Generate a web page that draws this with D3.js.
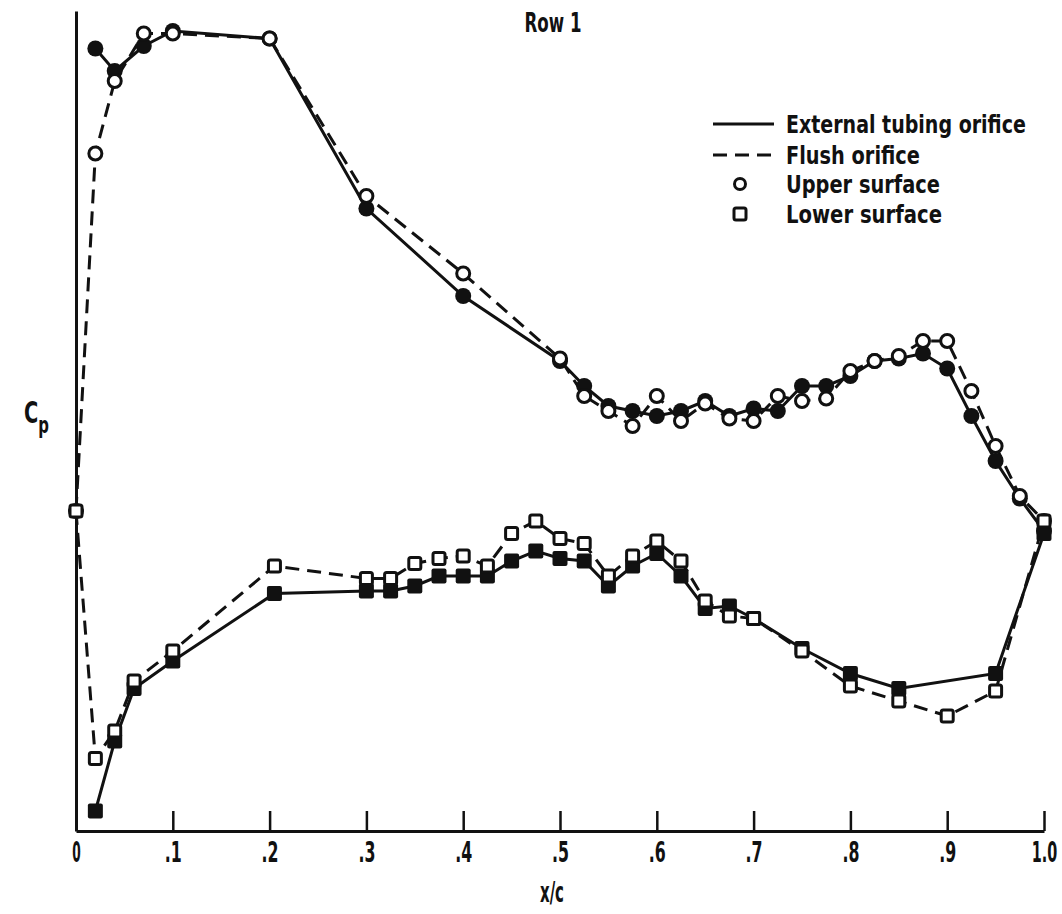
<!DOCTYPE html>
<html>
<head>
<meta charset="utf-8">
<script src="https://cdn.jsdelivr.net/npm/d3@7"></script>
<style>
  body { margin: 0; background: #fff; }
  svg text { font-family: "Liberation Sans Narrow", "DejaVu Sans Condensed", sans-serif; font-weight: bold; fill: #111; }
</style>
</head>
<body>
<script>
"use strict";

/* chordwise stations, upper and lower surface */
var upperX = [0, 0.02, 0.04, 0.07, 0.1, 0.2, 0.3, 0.4, 0.5, 0.525, 0.55, 0.575, 0.6, 0.625,
              0.65, 0.675, 0.7, 0.725, 0.75, 0.775, 0.8, 0.825, 0.85, 0.875, 0.9, 0.925, 0.95, 0.975, 1.0];
var lowerX = [0, 0.02, 0.04, 0.06, 0.1, 0.205, 0.3, 0.325, 0.35, 0.375, 0.4, 0.425, 0.45, 0.475,
              0.5, 0.525, 0.55, 0.575, 0.6, 0.625, 0.65, 0.675, 0.7, 0.75, 0.8, 0.85, 0.9, 0.95, 1.0];

/* Cp, external tubing orifice (null = no reading) */
var upperTubing = [null, -1.85, -1.76, -1.86, -1.92, -1.89, -1.21, -0.86, -0.60, -0.50, -0.42, -0.40, -0.38, -0.40,
                   -0.44, -0.38, -0.41, -0.40, -0.50, -0.50, -0.54, -0.60, -0.61, -0.63, -0.57, -0.38, -0.20, -0.05, 0.08];
var lowerTubing = [null, 1.20, 0.92, 0.71, 0.60, 0.33, 0.32, 0.32, 0.30, 0.26, 0.26, 0.26, 0.20, 0.16,
                   0.19, 0.20, 0.30, 0.22, 0.17, 0.26, 0.39, 0.38, 0.43, 0.55, 0.65, 0.71, null, 0.65, 0.09];

/* Cp, flush orifice */
var upperFlush = [0.0, -1.43, -1.72, -1.91, -1.91, -1.89, -1.26, -0.95, -0.61, -0.46, -0.40, -0.34, -0.46, -0.36,
                  -0.43, -0.37, -0.36, -0.46, -0.44, -0.45, -0.56, -0.60, -0.62, -0.68, -0.68, -0.48, -0.26, -0.06, 0.04];
var lowerFlush = [0.0, 0.99, 0.88, 0.68, 0.56, 0.22, 0.27, 0.27, 0.21, 0.19, 0.18, 0.22, 0.09, 0.04,
                  0.11, 0.13, 0.26, 0.18, 0.12, 0.20, 0.36, 0.42, 0.43, 0.56, 0.70, 0.76, 0.82, 0.72, 0.04];

var xTicks = [0, 0.1, 0.2, 0.3, 0.4, 0.5, 0.6, 0.7, 0.8, 0.9, 1.0];
var xTickLabels = ["0", ".1", ".2", ".3", ".4", ".5", ".6", ".7", ".8", ".9", "1.0"];

var legendItems = ["External tubing orifice", "Flush orifice", "Upper surface", "Lower surface"];
var legendWidths = [240, 134, 154, 156];

var width = 1062, height = 914;

var svg = d3.select("body").append("svg")
    .attr("width", width)
    .attr("height", height);

var x = d3.scaleLinear().domain([0, 1]).range([76, 1044]);
/* Cp axis runs negative upward */
var y = d3.scaleLinear().domain([1.28, -2.0]).range([831, 11]);

/* squeeze a text horizontally to a given width, keeping its anchor point */
function squeeze(node, w) {
  var natural = node.getComputedTextLength();
  if (!natural) return;
  var s = w / natural;
  var ax = +node.getAttribute("x") || 0;
  node.setAttribute("transform",
    "translate(" + ax + ",0) scale(" + s + ",1) translate(" + (-ax) + ",0)");
}

function pairs(xs, vs) {
  return xs.map(function (d, i) { return { x: d, v: vs[i] }; })
           .filter(function (d) { return d.v !== null; });
}

var series = [
  { pts: pairs(upperX, upperTubing), dash: null, shape: "circle", open: false },
  { pts: pairs(lowerX, lowerTubing), dash: null, shape: "square", open: false },
  { pts: pairs(upperX, upperFlush), dash: "14,8", shape: "circle", open: true },
  { pts: pairs(lowerX, lowerFlush), dash: "14,8", shape: "square", open: true }
];

/* axes */
var xAxis = d3.axisBottom(x)
    .tickValues(xTicks)
    .tickFormat(function (d, i) { return xTickLabels[i]; })
    .tickSizeInner(-20)
    .tickSizeOuter(0)
    .tickPadding(10);

var gx = svg.append("g")
    .attr("transform", "translate(0,831)")
    .call(xAxis);
gx.select(".domain").attr("stroke", "#111").attr("stroke-width", 3);
gx.selectAll(".tick line").attr("stroke", "#111").attr("stroke-width", 2.5);
gx.selectAll(".tick").filter(function (d) { return d === 0; }).select("line").remove();
gx.selectAll(".tick text")
    .style("font-size", "29px")
    .attr("fill", "#111")
    .each(function (d, i) { squeeze(this, xTickLabels[i].length * 8.5); });

var gy = svg.append("g")
    .attr("transform", "translate(76,0)")
    .call(d3.axisLeft(y).tickValues([]).tickSizeOuter(0));
gy.select(".domain").attr("stroke", "#111").attr("stroke-width", 3);

/* curves */
var line = d3.line()
    .x(function (d) { return x(d.x); })
    .y(function (d) { return y(d.v); });

series.forEach(function (s) {
  svg.append("path")
      .datum(s.pts)
      .attr("fill", "none")
      .attr("stroke", "#111")
      .attr("stroke-width", 3)
      .attr("stroke-dasharray", s.dash)
      .attr("d", line);
});

/* markers: filled first, open ones on top */
function drawMarkers(s) {
  var g = svg.append("g");
  if (s.shape === "circle") {
    g.selectAll("circle").data(s.pts).enter().append("circle")
        .attr("cx", function (d) { return x(d.x); })
        .attr("cy", function (d) { return y(d.v); })
        .attr("r", s.open ? 6.5 : 8)
        .attr("fill", s.open ? "#fff" : "#111")
        .attr("stroke", "#111")
        .attr("stroke-width", s.open ? 3 : 0);
  } else {
    var sz = s.open ? 12 : 15;
    g.selectAll("rect").data(s.pts).enter().append("rect")
        .attr("x", function (d) { return x(d.x) - sz / 2; })
        .attr("y", function (d) { return y(d.v) - sz / 2; })
        .attr("width", sz)
        .attr("height", sz)
        .attr("rx", 2)
        .attr("fill", s.open ? "#fff" : "#111")
        .attr("stroke", "#111")
        .attr("stroke-width", s.open ? 3 : 0);
  }
}
series.filter(function (s) { return !s.open; }).forEach(drawMarkers);
series.filter(function (s) { return s.open; }).forEach(drawMarkers);

/* titles */
svg.append("text")
    .attr("x", 553).attr("y", 32)
    .attr("text-anchor", "middle")
    .style("font-size", "27px")
    .text("Row 1")
    .each(function () { squeeze(this, 57); });

svg.append("text")
    .attr("x", 552).attr("y", 902)
    .attr("text-anchor", "middle")
    .style("font-size", "28px")
    .text("x/c")
    .each(function () { squeeze(this, 24); });

var cp = svg.append("g").attr("transform", "translate(24,423) scale(0.72,1)");
var cpText = cp.append("text").style("font-size", "30px");
cpText.append("tspan").text("C");
cpText.append("tspan").attr("dy", 10).style("font-size", "23px").text("p");

/* legend */
var legend = svg.append("g");
var rowY = [124, 155, 184, 214];

legend.append("line")
    .attr("x1", 713).attr("x2", 774).attr("y1", rowY[0]).attr("y2", rowY[0])
    .attr("stroke", "#111").attr("stroke-width", 3);
legend.append("line")
    .attr("x1", 713).attr("x2", 774).attr("y1", rowY[1]).attr("y2", rowY[1])
    .attr("stroke", "#111").attr("stroke-width", 3)
    .attr("stroke-dasharray", "14,8");
legend.append("circle")
    .attr("cx", 740).attr("cy", rowY[2]).attr("r", 5.5)
    .attr("fill", "#fff").attr("stroke", "#111").attr("stroke-width", 3);
legend.append("rect")
    .attr("x", 734).attr("y", rowY[3] - 6).attr("width", 12).attr("height", 12).attr("rx", 2)
    .attr("fill", "#fff").attr("stroke", "#111").attr("stroke-width", 3);

legend.selectAll("text.item").data(legendItems).enter().append("text")
    .attr("class", "item")
    .attr("x", 786)
    .attr("y", function (d, i) { return rowY[i] + 9; })
    .style("font-size", "25px")
    .text(function (d) { return d; })
    .each(function (d, i) { squeeze(this, legendWidths[i]); });
</script>
</body>
</html>
